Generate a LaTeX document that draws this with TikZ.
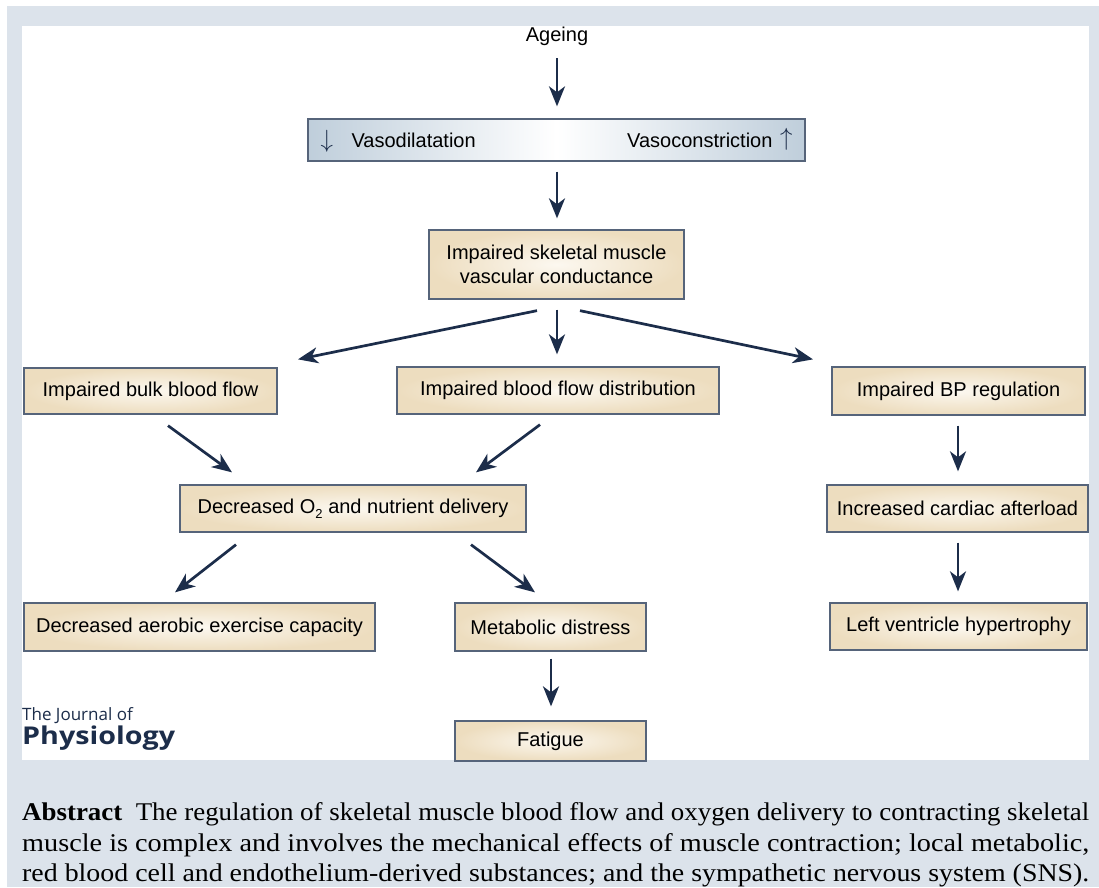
\documentclass[tikz,border=0pt]{standalone}
\usepackage{fontspec}
\usepackage{graphicx}
\setmainfont{Liberation Serif}
\newfontfamily\arialf{Liberation Sans}
\newfontfamily\logof{Open Sans}
\usetikzlibrary{arrows.meta,calc}
\definecolor{bgblue}{HTML}{DCE3EB}
\definecolor{tanout}{HTML}{EDDDBF}
\definecolor{tanin}{HTML}{FCF8F0}
\definecolor{bordc}{HTML}{56647A}
\definecolor{navy}{HTML}{1C2D4A}
\definecolor{vasoedge}{HTML}{BFCEDB}
\tikzset{
  box/.style={draw=bordc, line width=1.3pt, inner sep=0pt, align=center,
    inner color=tanin, outer color=tanout,
    font=\arialf\fontsize{20}{24}\selectfont, text=black},
  arr/.style={draw=navy, line width=2.7pt,
    -{Stealth[length=20pt,width=16pt,inset=6pt]}},
  lbl/.style={inner sep=0pt, font=\arialf\fontsize{20}{24}\selectfont},
  abs/.style={inner sep=0pt, anchor=base west, font=\fontsize{25.5}{31}\selectfont}
}
\newcommand{\absline}[1]{\resizebox{1067pt}{\height}{#1}}
\begin{document}
\begin{tikzpicture}[x=1pt,y=-1pt]
\useasboundingbox (0,0) rectangle (1099,887);
\fill[white] (0,0) rectangle (1099,887);
\fill[bgblue] (7,6) rectangle (1099,887);
\fill[white] (22,26) rectangle (1089,760);

\node[lbl] (ageing) at (557,36) {Ageing};

\node[draw=bordc, line width=1.3pt, left color=vasoedge, right color=vasoedge, middle color=white,
      minimum width=497pt, minimum height=42pt, inner sep=0pt] (vaso) at (556.5,140) {};
\node[lbl, anchor=west, text=navy] (dn) at ($(vaso.west)+(13,1)$) {\fontsize{27}{27}\selectfont$\downarrow$};
\node[lbl, anchor=west] (vd) at ($(vaso.west)+(44,0)$) {Vasodilatation};
\node[lbl, anchor=east, text=navy] (up) at ($(vaso.east)+(-13,-1)$) {\fontsize{27}{27}\selectfont$\uparrow$};
\node[lbl, anchor=east] (vc) at ($(vaso.east)+(-33,0)$) {Vasoconstriction};

\node[box, minimum width=255pt, minimum height=69pt] (imp) at (556.5,264.5) {Impaired skeletal muscle\\vascular conductance};
\node[box, minimum width=253pt, minimum height=46pt] (bulk) at (150.5,391) {Impaired bulk blood flow};
\node[box, minimum width=322pt, minimum height=47pt] (dist) at (558,390.5) {Impaired blood flow distribution};
\node[box, minimum width=253pt, minimum height=48pt] (bp) at (958.5,391) {Impaired BP regulation};
\node[box, minimum width=346pt, minimum height=47pt] (o2) at (353,508.5) {Decreased O\raisebox{-0.45ex}{\fontsize{13}{13}\selectfont 2} and nutrient delivery};
\node[box, minimum width=261pt, minimum height=47pt] (card) at (957.5,508.5) {Increased cardiac afterload};
\node[box, minimum width=351pt, minimum height=48pt] (aer) at (199.5,627) {Decreased aerobic exercise capacity};
\node[box, minimum width=191pt, minimum height=48pt] (met) at (550.5,627) {Metabolic distress};
\node[box, minimum width=257pt, minimum height=47pt] (lv) at (958.5,626.5) {Left ventricle hypertrophy};
\node[box, minimum width=191pt, minimum height=40pt] (fat) at (550.5,741) {Fatigue};

\draw[arr] ($(ageing)+(0,22)$) -- ($(vaso.north)+(0.5,-12)$);
\draw[arr] ($(vaso.south)+(0.5,10)$) -- ($(imp.north)+(0.5,-11)$);
\draw[arr] ($(imp.south)+(-19.5,11)$) -- ($(bulk.north)+(147.5,-8)$);
\draw[arr] ($(imp.south)+(0.5,10)$) -- ($(dist.north)+(-1,-12)$);
\draw[arr] ($(imp.south)+(23.5,11)$) -- ($(bp.north)+(-145.5,-7)$);
\draw[arr] ($(bulk.south)+(17.5,11)$) -- ($(o2.north)+(-121,-12)$);
\draw[arr] ($(dist.south)+(-18,10)$) -- ($(o2.north)+(123,-12)$);
\draw[arr] ($(bp.south)+(-0.5,10)$) -- ($(card.north)+(0.5,-13)$);
\draw[arr] ($(o2.south)+(-117,12)$) -- ($(aer.north)+(-24.5,-10)$);
\draw[arr] ($(o2.south)+(118,12)$) -- ($(met.north)+(-15.5,-10)$);
\draw[arr] ($(card.south)+(0.5,10)$) -- ($(lv.north)+(-0.5,-11)$);
\draw[arr] ($(met.south)+(0.5,7)$) -- ($(fat.north)+(0.5,-14)$);

\node[inner sep=0pt, anchor=base west, text=navy, font=\logof\fontsize{17}{17}\selectfont] (jr1) at (22,720) {The Journal of};
\node[inner sep=0pt, anchor=base west, text=navy, font=\logof\bfseries\fontsize{24.5}{24.5}\selectfont] (jr2) at (22,744) {\scalebox{1.17}[1]{Physiology}};

\node[abs] (ab1) at (22,820) {\absline{\textbf{Abstract}\ \ The regulation of skeletal muscle blood flow and oxygen delivery to contracting skeletal}};
\node[abs] (ab2) at (22,851) {\absline{muscle is complex and involves the mechanical effects of muscle contraction; local metabolic,}};
\node[abs] (ab3) at (22,881) {\absline{red blood cell and endothelium-derived substances; and the sympathetic nervous system (SNS).}};
\end{tikzpicture}
\end{document}
